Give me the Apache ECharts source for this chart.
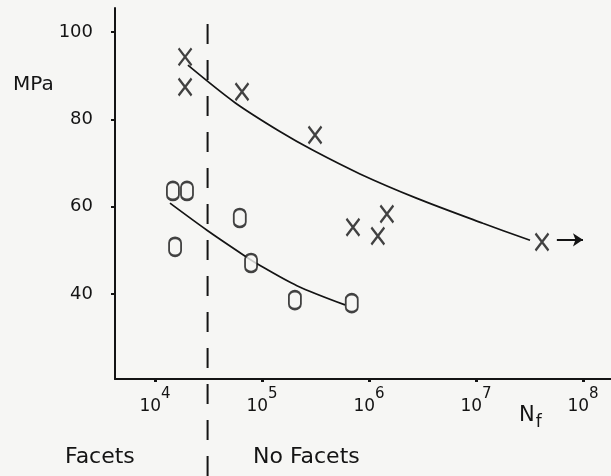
<!DOCTYPE html>
<html>
<head>
<meta charset="utf-8">
<style>
html,body{margin:0;padding:0;background:#f6f6f4;}
#c{width:611px;height:476px;}
</style>
<script src="https://cdn.jsdelivr.net/npm/echarts@6/dist/echarts.min.js"></script>
</head>
<body>
<div id="c"></div>
<script>
// ---- data (N in cycles, stress in MPa) ----
const xTickExponents = [4, 5, 6, 7, 8];
const yTickValues = [40, 60, 80, 100];
const crossN   = [1.91e4, 1.91e4, 6.5e4, 3.13e5, 7.08e5, 1.47e6, 1.21e6, 4.14e7];
const crossMPa = [94.3, 87.4, 86.3, 76.4, 55.3, 58.3, 53.3, 51.9];
const circleN   = [1.47e4, 1.99e4, 6.2e4, 1.54e4, 7.9e4, 2.03e5, 6.9e5];
const circleMPa = [63.6, 63.6, 57.4, 50.8, 47.1, 38.6, 37.9];
const upperCurveN   = [2.03e4, 5.6e4, 1.47e5, 3.0e5, 8.24e5, 2.81e6, 1.16e7, 3.2e7];
const upperCurveMPa = [92.4, 83.8, 77.2, 72.9, 67.5, 61.9, 56.2, 52.3];
const lowerCurveN   = [1.38e4, 3.06e4, 6.64e4, 9.18e4, 2.12e5, 5.97e5];
const lowerCurveMPa = [60.8, 54.6, 49.0, 46.8, 41.9, 37.5];
const facetBoundaryN = 3.1e4;
const runoutArrowN = [5.7e7, 1.0e8];
const runoutArrowMPa = 52.4;
const regionLabels = ['Facets', 'No Facets'];

const lg = v => Math.log10(v);
const pairs = (xs, ys) => xs.map((x, i) => [lg(x), ys[i]]);

const INK = '#141414';
const FONT = "'DejaVu Sans', sans-serif";
const X_MIN = 3.626, X_MAX = 8.262;

const chart = echarts.init(document.getElementById('c'), null, {renderer: 'canvas'});
chart.setOption({
  backgroundColor: '#f6f6f4',
  animation: false,
  grid: [
    {left: 115, right: 0, top: 8, bottom: 97, containLabel: false},
    {left: 115, right: 0, top: 18, bottom: 0, containLabel: false}
  ],
  xAxis: [{
    type: 'value', gridIndex: 0, min: X_MIN, max: X_MAX,
    axisLine: {show: true, lineStyle: {color: INK, width: 2}},
    splitLine: {show: false},
    axisTick: {show: true, customValues: xTickExponents, length: 3, lineStyle: {color: INK, width: 3}},
    axisLabel: {
      customValues: xTickExponents, margin: 8,
      formatter: v => '{b|10}{s|' + Math.round(v) + '}',
      rich: {
        b: {fontFamily: FONT, fontSize: 17, color: INK, verticalAlign: 'bottom', lineHeight: 28},
        s: {fontFamily: FONT, fontSize: 15, color: INK, verticalAlign: 'top', lineHeight: 28, padding: [0,0,13,0]}
      }
    }
  }, {
    type: 'value', gridIndex: 1, min: X_MIN, max: X_MAX, show: false
  }],
  yAxis: [{
    type: 'value', gridIndex: 0, min: 20.53, max: 105.5,
    axisLine: {show: true, lineStyle: {color: INK, width: 2}},
    splitLine: {show: false},
    axisTick: {show: true, customValues: yTickValues, length: 4, lineStyle: {color: INK, width: 2}},
    axisLabel: {customValues: yTickValues, margin: 22, fontFamily: FONT, fontSize: 18, color: INK}
  }, {
    type: 'value', gridIndex: 1, min: 0, max: 1, show: false
  }],
  series: [
    {
      name: 'upper fit', type: 'line', xAxisIndex: 0, yAxisIndex: 0,
      data: pairs(upperCurveN, upperCurveMPa), smooth: 0.3, showSymbol: false,
      lineStyle: {color: INK, width: 1.7}, z: 2,
      markLine: {
        silent: true, symbol: ['none', 'arrow'], symbolSize: [10, 10],
        lineStyle: {color: INK, width: 2, type: 'solid'}, label: {show: false},
        data: [[{coord: [lg(runoutArrowN[0]), runoutArrowMPa]}, {coord: [lg(runoutArrowN[1]), runoutArrowMPa]}]]
      }
    },
    {
      name: 'lower fit', type: 'line', xAxisIndex: 0, yAxisIndex: 0,
      data: pairs(lowerCurveN, lowerCurveMPa), smooth: 0.3, showSymbol: false,
      lineStyle: {color: INK, width: 1.7}, z: 2
    },
    {
      name: 'crosses', type: 'scatter', xAxisIndex: 0, yAxisIndex: 0,
      data: pairs(crossN, crossMPa),
      symbol: 'path://M0,0 L12,17 M12,0 L0,17', symbolSize: [13, 17],
      itemStyle: {color: 'rgba(0,0,0,0)', borderColor: INK, borderWidth: 2.4}, z: 3
    },
    {
      name: 'circles', type: 'scatter', xAxisIndex: 0, yAxisIndex: 0,
      data: pairs(circleN, circleMPa),
      symbol: 'path://M0,5 A5,5 0 0 1 10,5 L10,13 A5,5 0 0 1 0,13 Z', symbolSize: [12, 18],
      itemStyle: {color: '#f6f6f4', borderColor: INK, borderWidth: 2.2}, z: 4
    },
    {
      name: 'facet boundary', type: 'line', xAxisIndex: 1, yAxisIndex: 1,
      data: [[lg(facetBoundaryN), 0], [lg(facetBoundaryN), 1]], showSymbol: false,
      lineStyle: {color: INK, width: 2, type: [20, 16]}
    }
  ],
  graphic: [
    {type: 'text', left: 13, top: 75, style: {text: 'MPa', fontFamily: FONT, fontSize: 20, fill: INK}},
    {type: 'text', left: 519, top: 404, style: {
      text: '{n|N}{s|f}', rich: {
        n: {fontFamily: FONT, fontSize: 21, fill: INK, verticalAlign: 'top', lineHeight: 26},
        s: {fontFamily: FONT, fontSize: 17, fill: INK, verticalAlign: 'bottom', lineHeight: 26, padding: [10,0,0,1]}
      }}},
    {type: 'text', left: 65, top: 446, style: {text: regionLabels[0], fontFamily: FONT, fontSize: 22, fill: INK}},
    {type: 'text', left: 253, top: 446, style: {text: regionLabels[1], fontFamily: FONT, fontSize: 22, fill: INK}}
  ]
});
</script>
</body>
</html>
